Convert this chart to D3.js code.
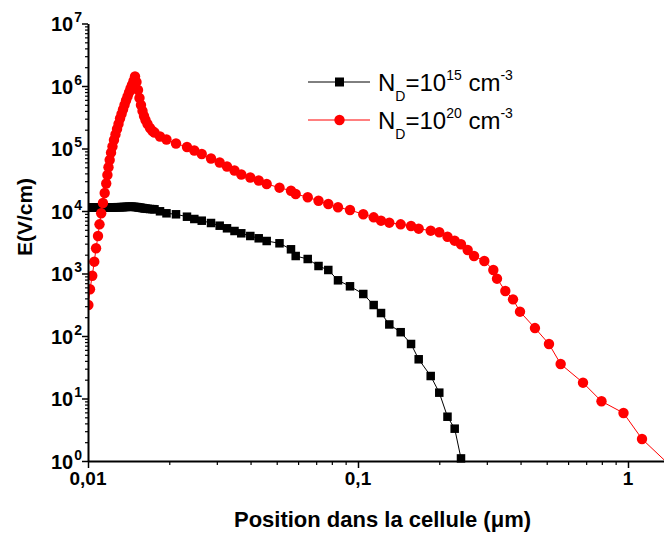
<!DOCTYPE html>
<html>
<head>
<meta charset="utf-8">
<script src="https://cdn.jsdelivr.net/npm/d3@7"></script>
<style>
  html, body { margin: 0; padding: 0; background: #fff; }
  svg { display: block; font-family: Arial, "Liberation Sans", sans-serif; }
</style>
</head>
<body>
<svg id="chart" width="664" height="534"></svg>
<script>
// Position along the cell (µm) – shared mesh for both doping levels
const positionUm = [
  0.01003, 0.01017, 0.01037, 0.01055, 0.01071, 0.01089, 0.01103, 0.01119, 0.01136, 0.01153,
  0.01168, 0.0118, 0.01191, 0.01203, 0.01217, 0.01232, 0.01248, 0.01264, 0.01281, 0.01297,
  0.01314, 0.01331, 0.01348, 0.01365, 0.01383, 0.01401, 0.01419, 0.01437, 0.01455, 0.01474,
  0.01493, 0.01512, 0.01532, 0.01551, 0.01571, 0.01592, 0.01612, 0.01633, 0.01661, 0.01697,
  0.01733,
  0.01763, 0.01848, 0.01953, 0.02118, 0.02326, 0.02476, 0.02638, 0.02855, 0.03074, 0.03272,
  0.03488, 0.03696, 0.03991, 0.04288, 0.0459, 0.0512, 0.05647, 0.05878, 0.06513, 0.07141,
  0.07762, 0.08432, 0.0934, 0.1046, 0.1143, 0.1217, 0.1306, 0.1439, 0.1572, 0.1678,
  0.1859, 0.2, 0.2145, 0.2281, 0.2407,
  0.2548, 0.269, 0.2937, 0.3171, 0.3272, 0.3513, 0.3751, 0.3981, 0.4523, 0.5097,
  0.5631, 0.6813, 0.7977, 0.9623, 1.127, 1.558
];

// Electric field E (V/cm) for N_D = 1e15 cm^-3
const fieldND15 = [
  11400, 11400, 11400, 11400, 11400, 11400, 11400, 11400, 11400, 11400,
  11400, 11400, 11400, 11400, 11400, 11400, 11450, 11450, 11500, 11500,
  11500, 11550, 11550, 11600, 11600, 11650, 11700, 11700, 11700, 11650,
  11600, 11550, 11450, 11350, 11250, 11150, 11050, 10950, 10850, 10750,
  10700,
  10647, 9890, 9189, 8857, 8105, 7447, 6996, 6427, 5819, 5287,
  4786, 4398, 3981, 3658, 3311, 3043, 2439, 1905, 1706, 1318,
  1138, 778, 624, 470, 313, 233, 153, 115, 74.5, 42.4,
  22.9, 12.4, 5.11, 3.29, 1.10
];

// Electric field E (V/cm) for N_D = 1e20 cm^-3
const fieldND20 = [
  313, 559, 922, 1545, 2531, 3981, 6124, 9187, 13430, 19410,
  27540, 37670, 50030, 65460, 85700, 107700, 136800, 167500, 205100, 246600,
  302000, 356500, 420700, 496600, 586100, 679200, 787000, 912000, 1038000, 1202000,
  1419000, 1159000, 863000, 642700, 496600, 398100, 331100, 285800, 246600, 212800,
  190500,
  180300, 155600, 139300, 120200, 105700, 92900, 81660, 69180, 59700, 51520,
  44460, 38370, 34360, 30760, 27040, 23600, 21120, 18710, 16570, 14610,
  12940, 11460, 10380, 8857, 7928, 6998, 6501, 6124, 5754, 5212,
  4840, 4563, 3879, 3350, 2933, 2377, 1905, 1585, 1138, 826,
  525, 386, 245, 134, 74.5, 35.6, 17.9, 9.02, 5.86, 2.25, 0.6
];

const xTickValues = [0.01, 0.1, 1];
const xTickLabels = ["0,01", "0,1", "1"];
const yExponents = [0, 1, 2, 3, 4, 5, 6, 7];

const seriesInfo = [
  { name: "15", values: fieldND15, color: "#000000", marker: "square" },
  { name: "20", values: fieldND20, color: "#ff0000", marker: "circle" }
];

// ---- layout ----
const svg = d3.select("#chart");
const plotLeft = 88, plotRight = 664, plotTop = 23.5, plotBottom = 461;
const xMax = 1.3594;

const x = d3.scaleLog().domain([0.01, xMax]).range([plotLeft, plotRight]);
const y = d3.scaleLog().domain([1, 1e7]).range([plotBottom, plotTop]);

// minor tick values
const xMinor = [];
[0.01, 0.1, 1].forEach(d => { for (let k = 2; k <= 9; k++) { const v = d * k; if (v <= xMax) xMinor.push(v); } });
const yMinor = [];
yExponents.slice(0, -1).forEach(e => { for (let k = 2; k <= 9; k++) yMinor.push(k * Math.pow(10, e)); });

// clip region for data
svg.append("defs").append("clipPath").attr("id", "plotClip")
  .append("rect").attr("x", plotLeft).attr("y", 0)
  .attr("width", plotRight - plotLeft).attr("height", plotBottom + 4);

const plot = svg.append("g").attr("clip-path", "url(#plotClip)");

const line = d3.line().x(d => x(d[0])).y(d => y(d[1]));

seriesInfo.forEach(s => {
  const pts = s.values.map((v, i) => [positionUm[i], v]);
  plot.append("path").datum(pts)
    .attr("fill", "none").attr("stroke", s.color).attr("stroke-width", 1)
    .attr("d", line);
  if (s.marker === "square") {
    const side = 8.5;
    plot.selectAll(null).data(pts).enter().append("rect")
      .attr("x", d => x(d[0]) - side / 2).attr("y", d => y(d[1]) - side / 2)
      .attr("width", side).attr("height", side).attr("fill", s.color);
  } else {
    plot.selectAll(null).data(pts).enter().append("circle")
      .attr("cx", d => x(d[0])).attr("cy", d => y(d[1])).attr("r", 5.2)
      .attr("fill", s.color);
  }
});

// ---- axes ----
const xMajor = svg.append("g").attr("transform", `translate(0,${plotBottom})`)
  .call(d3.axisBottom(x).tickValues(xTickValues).tickSize(7).tickSizeOuter(0).tickFormat(""));
xMajor.select(".domain").attr("stroke-width", 2);
xMajor.selectAll(".tick line").attr("stroke-width", 1.5);
svg.append("g").attr("transform", `translate(0,${plotBottom})`)
  .call(d3.axisBottom(x).tickValues(xMinor).tickSize(4).tickFormat(""))
  .call(g => g.select(".domain").remove())
  .selectAll(".tick line").attr("stroke-width", 1.2);

const yMajor = svg.append("g").attr("transform", `translate(${plotLeft},0)`)
  .call(d3.axisLeft(y).tickValues(yExponents.map(e => Math.pow(10, e))).tickSize(6).tickSizeOuter(0).tickFormat(""));
yMajor.select(".domain").attr("stroke-width", 2);
yMajor.selectAll(".tick line").attr("stroke-width", 1.5);
svg.append("g").attr("transform", `translate(${plotLeft},0)`)
  .call(d3.axisLeft(y).tickValues(yMinor).tickSize(3).tickFormat(""))
  .call(g => g.select(".domain").remove())
  .selectAll(".tick line").attr("stroke-width", 1.2);

// x tick labels
svg.append("g").selectAll("text").data(xTickValues).enter().append("text")
  .attr("x", d => x(d)).attr("y", plotBottom + 24)
  .attr("text-anchor", "middle").attr("font-size", 19).attr("font-weight", "bold")
  .text((d, i) => xTickLabels[i]);

// y tick labels 10^n
const yl = svg.append("g").selectAll("text").data(yExponents).enter().append("text")
  .attr("x", 82).attr("y", e => y(Math.pow(10, e)) + 7.5)
  .attr("text-anchor", "end").attr("font-weight", "bold");
yl.append("tspan").attr("font-size", 20).text("10");
yl.append("tspan").attr("font-size", 14).attr("dx", 1).attr("dy", -9).text(e => e);

// axis titles
svg.append("text")
  .attr("transform", "translate(32,217) rotate(-90)")
  .attr("text-anchor", "middle").attr("font-size", 21).attr("font-weight", "bold")
  .text("E(V/cm)");
svg.append("text")
  .attr("x", 382.5).attr("y", 527)
  .attr("text-anchor", "middle").attr("font-size", 22).attr("font-weight", "bold")
  .text("Position dans la cellule (\u03bcm)");

// ---- legend ----
const legend = svg.append("g");
seriesInfo.forEach((s, i) => {
  const ly = 82 + i * 38;
  legend.append("line").attr("x1", 308).attr("x2", 370).attr("y1", ly).attr("y2", ly)
    .attr("stroke", s.color).attr("stroke-width", 1);
  if (s.marker === "square") {
    legend.append("rect").attr("x", 339.5 - 4.5).attr("y", ly - 4.5).attr("width", 9).attr("height", 9).attr("fill", s.color);
  } else {
    legend.append("circle").attr("cx", 339.5).attr("cy", ly).attr("r", 5.2).attr("fill", s.color);
  }
  const t = legend.append("text").attr("x", 378).attr("y", ly + 8.5).attr("font-size", 24);
  t.append("tspan").text("N");
  t.append("tspan").attr("font-size", 14).attr("dy", 10).text("D");
  t.append("tspan").attr("dy", -10).text("=10");
  t.append("tspan").attr("font-size", 14).attr("dy", -11).text(s.name);
  t.append("tspan").attr("dy", 11).text(" cm");
  t.append("tspan").attr("font-size", 14).attr("dy", -11).text("-3");
});
</script>
</body>
</html>
